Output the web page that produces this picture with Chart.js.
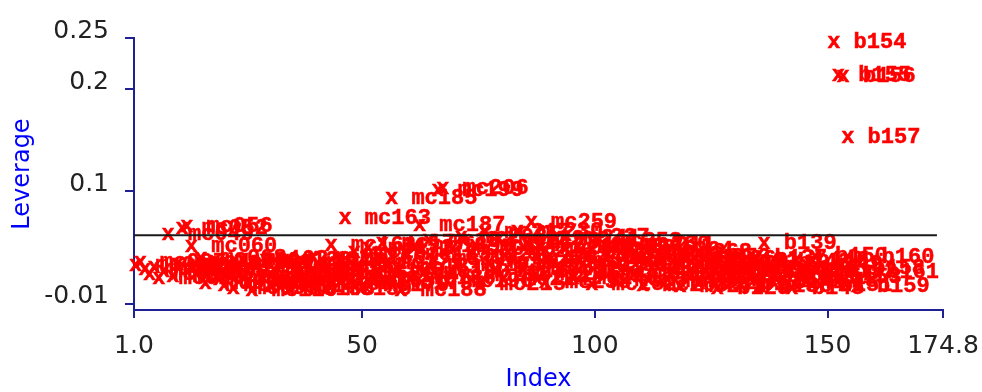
<!DOCTYPE html>
<html>
<head>
<meta charset="utf-8">
<script src="https://cdn.jsdelivr.net/npm/chart.js@4/dist/chart.umd.min.js"></script>
<style>
  html, body { margin: 0; padding: 0; background: #fff; }
</style>
</head>
<body>
<canvas id="myChart" width="982" height="392"></canvas>
<script>
// sample ids for the first 119 points (mc###), the rest are b### samples
const mcIds = [
  3, 7, 12, 18, 21, 26, 30, 49, 35, 41,
  52, 56, 60, 64, 68, 71, 75, 80, 84, 88,
  91, 95, 99, 102, 106, 110, 113, 117, 120, 124,
  127, 131, 134, 138, 141, 145, 148, 150, 152, 155,
  157, 159, 161, 162, 160, 163, 165, 167, 168, 170,
  172, 174, 175, 177, 179, 185, 181, 188, 183, 186,
  189, 187, 190, 192, 194, 199, 206, 196, 201, 203,
  208, 210, 212, 214, 215, 217, 219, 220, 222, 224,
  226, 228, 230, 231, 233, 259, 235, 236, 238, 240,
  241, 243, 227, 245, 246, 248, 250, 251, 252, 253,
  254, 255, 256, 257, 258, 260, 211, 261, 262, 263,
  264, 265, 266, 267, 268, 269, 270, 271, 272
];
const bIds = [
  123, 124, 125, 126, 127, 128, 129, 130, 131, 132,
  133, 134, 135, 136, 137, 138, 139, 140, 141, 142,
  143, 144, 145, 146, 147, 148, 149, 150, 151, 152,
  153, 154, 155, 156, 157, 158, 159, 160, 161
];

// leverage per sample, in index order 1..158
const leverage = [
  0.028, 0.031, 0.024, 0.019, 0.026, 0.015, 0.022, 0.058, 0.017, 0.029,
  0.064, 0.066, 0.047, 0.020, 0.035, 0.010, 0.025, 0.032, 0.014, 0.008,
  0.030, 0.006, 0.018, 0.034, 0.011, 0.004, 0.027, 0.016, 0.033, 0.007,
  0.021, 0.013, 0.030, 0.005, 0.024, 0.017, 0.031, 0.009, 0.036, 0.014,
  0.026, 0.005, 0.048, 0.019, 0.035, 0.074, 0.012, 0.041, 0.022, 0.008,
  0.045, 0.017, 0.030, 0.050, 0.010, 0.094, 0.026, 0.004, 0.039, 0.015,
  0.047, 0.067, 0.021, 0.052, 0.034, 0.101, 0.103, 0.012, 0.044, 0.028,
  0.055, 0.018, 0.038, 0.048, 0.009, 0.060, 0.031, 0.022, 0.053, 0.014,
  0.042, 0.035, 0.061, 0.026, 0.050, 0.070, 0.019, 0.045, 0.011, 0.037,
  0.054, 0.024, 0.055, 0.032, 0.015, 0.046, 0.028, 0.040, 0.009, 0.051,
  0.021, 0.036, 0.044, 0.013, 0.030, 0.049, 0.048, 0.019, 0.038, 0.008,
  0.043, 0.025, 0.033, 0.012, 0.041, 0.020, 0.029, 0.007, 0.036, 0.016,
  0.027, 0.010, 0.034, 0.018, 0.030, 0.006, 0.024, 0.032, 0.013, 0.021,
  0.009, 0.028, 0.017, 0.035, 0.007, 0.050, 0.023, 0.011, 0.031, 0.015,
  0.026, 0.006, 0.033, 0.019, 0.012, 0.029, 0.037, 0.008, 0.022, 0.016,
  0.246, 0.214, 0.213, 0.153, 0.025, 0.007, 0.036, 0.021
];

const cutoff = 0.057;
const cutoffRange = [1.0, 173.5];

const xTicks = [1.0, 50, 100, 150, 174.8];
const xTickLabels = ['1.0', '50', '100', '150', '174.8'];
const yTicks = [-0.01, 0.1, 0.2, 0.25];
const yTickLabels = ['-0.01', '0.1', '0.2', '0.25'];

const names = mcIds.map(n => 'mc' + String(n).padStart(3, '0'))
  .concat(bIds.map(n => 'b' + n));

const points = leverage.map((v, i) => ({ x: i + 1, y: v, name: names[i] }));

// each sample is drawn as the text "x name", the x sitting on the point
const textMarks = {
  id: 'textMarks',
  beforeDatasetsDraw(chart) {
    const ctx = chart.ctx;
    const meta = chart.getDatasetMeta(0);
    ctx.save();
    ctx.font = 'bold 22px "Liberation Mono", "Courier New", monospace';
    ctx.fillStyle = '#ff0000';
    ctx.strokeStyle = '#ff0000';
    ctx.lineWidth = 0.5;
    ctx.textAlign = 'left';
    ctx.textBaseline = 'alphabetic';
    meta.data.forEach((el, i) => {
      const txt = 'x ' + points[i].name;
      ctx.fillText(txt, el.x - 5, el.y + 6);
      ctx.strokeText(txt, el.x - 5, el.y + 6);
    });
    ctx.restore();
  }
};

const axisColor = '#1f1f96';

const config = {
  type: 'scatter',
  data: {
    datasets: [
      {
        label: 'Leverage',
        data: points,
        pointRadius: 0,
        pointHoverRadius: 0,
        showLine: false
      },
      {
        type: 'line',
        label: 'cutoff',
        data: cutoffRange.map(x => ({ x: x, y: cutoff })),
        borderColor: '#1a1a1a',
        borderWidth: 2,
        pointRadius: 0,
        fill: false
      }
    ]
  },
  options: {
    responsive: false,
    animation: false,
    layout: { padding: { left: 0, right: 39, top: 38, bottom: 0 } },
    plugins: {
      legend: { display: false },
      tooltip: { enabled: false }
    },
    scales: {
      x: {
        type: 'linear',
        min: 1.0,
        max: 174.8,
        afterBuildTicks: (scale) => { scale.ticks = xTicks.map(v => ({ value: v })); },
        afterFit: (scale) => {
          scale.height = 82;
          scale.paddingLeft = 0;
          scale.paddingRight = 0;
        },
        ticks: {
          callback: (val, index) => xTickLabels[index],
          color: '#222',
          font: { family: 'DejaVu Sans', size: 25 },
          padding: 13,
          maxRotation: 0,
          autoSkip: false
        },
        grid: { drawOnChartArea: false, color: axisColor, tickLength: 8, lineWidth: 2 },
        border: { color: axisColor, width: 2 },
        title: {
          display: true,
          text: 'Index',
          color: '#0000ff',
          font: { family: 'DejaVu Sans', size: 24 },
          padding: { top: 0, bottom: -2 }
        }
      },
      y: {
        type: 'linear',
        min: -0.016,
        max: 0.25,
        afterBuildTicks: (scale) => { scale.ticks = yTicks.map(v => ({ value: v })); },
        afterFit: (scale) => { scale.width = 134; },
        ticks: {
          callback: (val, index) => yTickLabels[index],
          color: '#222',
          font: { family: 'DejaVu Sans', size: 25 },
          padding: 16,
          labelOffset: -7,
          autoSkip: false
        },
        grid: { drawOnChartArea: false, color: axisColor, tickLength: 9, lineWidth: 2 },
        border: { color: axisColor, width: 2 },
        title: {
          display: true,
          text: 'Leverage',
          color: '#0000ff',
          font: { family: 'DejaVu Sans', size: 24 },
          padding: { top: 8, bottom: 0 }
        }
      }
    }
  },
  plugins: [textMarks]
};

const myChart = new Chart(document.getElementById('myChart'), config);
</script>
</body>
</html>
